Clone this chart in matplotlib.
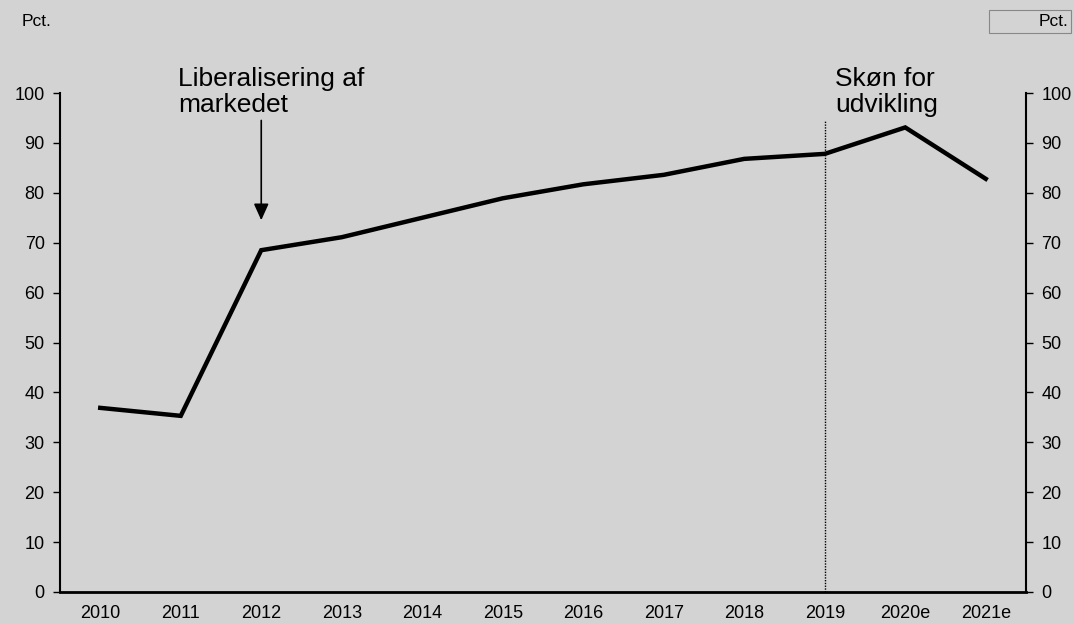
import matplotlib.pyplot as plt
import numpy as np

plt.rcParams['font.family'] = ['Liberation Sans', 'DejaVu Sans']

years = ["2010", "2011", "2012", "2013", "2014", "2015", "2016", "2017",
         "2018", "2019", "2020e", "2021e"]
share = [36.9, 35.3, 68.5, 71.1, 75.0, 78.9, 81.7, 83.6, 86.8, 87.8, 93.1, 82.8]

bg = "#d3d3d3"
fig = plt.figure(figsize=(10.74, 6.24), dpi=100, facecolor=bg)
ax = fig.add_axes([60 / 1074, 32 / 624, 966 / 1074, 499 / 624])
ax.set_facecolor(bg)

x = np.arange(len(years))
ax.plot(x, share, color="black", lw=3.2, solid_joinstyle="miter")

ax.set_xlim(-0.5, len(years) - 0.5)
ax.set_ylim(0, 100)
ax.set_xticks(x)
ax.set_xticklabels(years)
ax.set_yticks(range(0, 101, 10))
ax.tick_params(axis="x", length=0, pad=9, labelsize=13)
ax.tick_params(axis="y", length=5, width=1, labelsize=13, pad=6)

ax.spines["top"].set_visible(False)
ax.spines["left"].set_linewidth(1.5)
ax.spines["bottom"].set_linewidth(2)
ax.spines["right"].set_linewidth(1.5)

ax2 = ax.twinx()
ax2.set_ylim(0, 100)
ax2.set_yticks(range(0, 101, 10))
ax2.tick_params(axis="y", length=5, width=1, labelsize=13, pad=6)
for s in ax2.spines.values():
    s.set_visible(False)

# forecast divider
ax.vlines(9, 0, 94.6, colors="black", linestyles=(0, (1, 1)), lw=1)

ax.annotate("", xy=(2, 74.5), xytext=(2, 94.5),
            arrowprops=dict(arrowstyle="-|>,head_length=1.0,head_width=0.45",
                            color="black", lw=1.2, shrinkA=0, shrinkB=0))
ax.text(0.97, 95.2, "Liberalisering af\nmarkedet", fontsize=19,
        va="bottom", ha="left", linespacing=1.12)
ax.text(9.13, 95.2, "Skøn for\nudvikling", fontsize=19,
        va="bottom", ha="left", linespacing=1.12)

fig.text(22 / 1074, 1 - 22 / 624, "Pct.", fontsize=12.5, va="center", ha="left")
fig.text(1069 / 1074, 1 - 22 / 624, "Pct.", fontsize=12.5, va="center", ha="right")
fig.patches.append(plt.Rectangle((989 / 1074, 1 - 33 / 624), 82 / 1074, 23 / 624,
                                 transform=fig.transFigure, fill=False,
                                 ec="#888888", lw=0.8))

fig.savefig("out.png", dpi=100, facecolor=bg)
